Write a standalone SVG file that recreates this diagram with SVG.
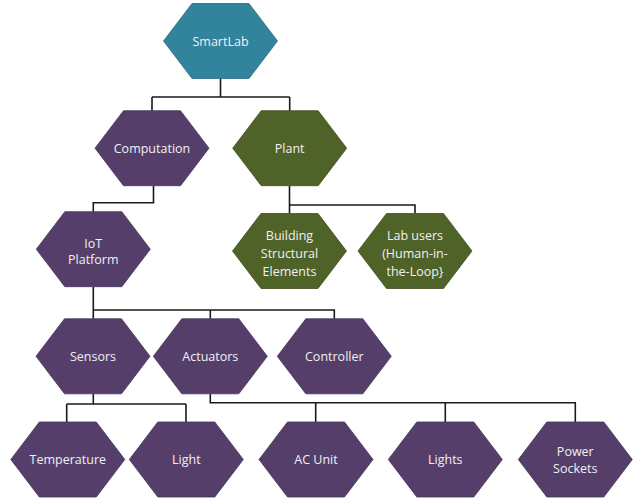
<svg xmlns="http://www.w3.org/2000/svg" xmlns:xlink="http://www.w3.org/1999/xlink" width="637" height="499" viewBox="0 0 637 499">
<style>
  .teal { fill: #31849B; stroke: #2A6F82; stroke-width: 0.8; }
  .purple { fill: #553F6A; stroke: #45335A; stroke-width: 0.8; }
  .green { fill: #4F6228; stroke: #405020; stroke-width: 0.8; }
  .lbl { font-family: "Open Sans", "Noto Sans", sans-serif; font-size: 12.5px; fill: #F0F0F4; text-anchor: middle; }
  .conn path { fill: none; stroke: #1A1A1A; stroke-width: 1.6; }
</style>
<defs>
  <polygon id="hex" points="-57,0 -28.5,-37.5 28.5,-37.5 57,0 28.5,37.5 -28.5,37.5"/>
</defs>
<rect width="637" height="499" fill="#FFFFFF"/>
<g id="connectors" class="conn">
  <path d="M220.5 78 V97 M152 97 H289.7 M152 97 V110.7 M289.7 97 V110.7"/>
  <path d="M153.5 185.7 V202.7 H93.3 V211.7"/>
  <path d="M289.5 185.7 V205 H415 V213.5 M289.5 205 V213.5"/>
  <path d="M93.3 286.7 V310 H334.3 V318.8 M93.3 310 V318.8 M210.3 310 V318.8"/>
  <path d="M93.3 393.8 V404 M66.7 404 H186 M66.7 404 V422 M186 404 V422"/>
  <path d="M210.3 393.8 V402.7 H575.3 V422 M315.7 402.7 V422 M445.3 402.7 V422"/>
</g>
<g id="smartlab">
  <use xlink:href="#hex" class="teal" transform="translate(220.5,41)"/>
  <text class="lbl" x="220.5" y="45.5">SmartLab</text>
</g>
<g id="computation">
  <use xlink:href="#hex" class="purple" transform="translate(152,148.2)"/>
  <text class="lbl" x="152" y="152.7">Computation</text>
</g>
<g id="plant">
  <use xlink:href="#hex" class="green" transform="translate(289.7,148.2)"/>
  <text class="lbl" x="289.7" y="152.7">Plant</text>
</g>
<g id="iot-platform">
  <use xlink:href="#hex" class="purple" transform="translate(93.3,249.2)"/>
  <text class="lbl" x="93.3" y="247.8">IoT</text>
  <text class="lbl" x="93.3" y="263.8">Platform</text>
</g>
<g id="building">
  <use xlink:href="#hex" class="green" transform="translate(289.5,251)"/>
  <text class="lbl" x="289.5" y="239.5">Building</text>
  <text class="lbl" x="289.5" y="257.5">Structural</text>
  <text class="lbl" x="289.5" y="275.5">Elements</text>
</g>
<g id="lab-users">
  <use xlink:href="#hex" class="green" transform="translate(415,251)"/>
  <text class="lbl" x="415" y="239.5">Lab users</text>
  <text class="lbl" x="415" y="257.5">(Human-in-</text>
  <text class="lbl" x="415" y="275.5">the-Loop}</text>
</g>
<g id="sensors">
  <use xlink:href="#hex" class="purple" transform="translate(93,356.3)"/>
  <text class="lbl" x="93" y="360.8">Sensors</text>
</g>
<g id="actuators">
  <use xlink:href="#hex" class="purple" transform="translate(210.3,356.3)"/>
  <text class="lbl" x="210.3" y="360.8">Actuators</text>
</g>
<g id="controller">
  <use xlink:href="#hex" class="purple" transform="translate(334.3,356.3)"/>
  <text class="lbl" x="334.3" y="360.8">Controller</text>
</g>
<g id="temperature">
  <use xlink:href="#hex" class="purple" transform="translate(67.8,459.5)"/>
  <text class="lbl" x="67.8" y="464">Temperature</text>
</g>
<g id="light">
  <use xlink:href="#hex" class="purple" transform="translate(186.3,459.5)"/>
  <text class="lbl" x="186.3" y="464">Light</text>
</g>
<g id="ac-unit">
  <use xlink:href="#hex" class="purple" transform="translate(316,459.5)"/>
  <text class="lbl" x="316" y="464">AC Unit</text>
</g>
<g id="lights">
  <use xlink:href="#hex" class="purple" transform="translate(445.3,459.5)"/>
  <text class="lbl" x="445.3" y="464">Lights</text>
</g>
<g id="power-sockets">
  <use xlink:href="#hex" class="purple" transform="translate(575.3,459.5)"/>
  <text class="lbl" x="575.3" y="455.5">Power</text>
  <text class="lbl" x="575.3" y="472.8">Sockets</text>
</g>
</svg>
